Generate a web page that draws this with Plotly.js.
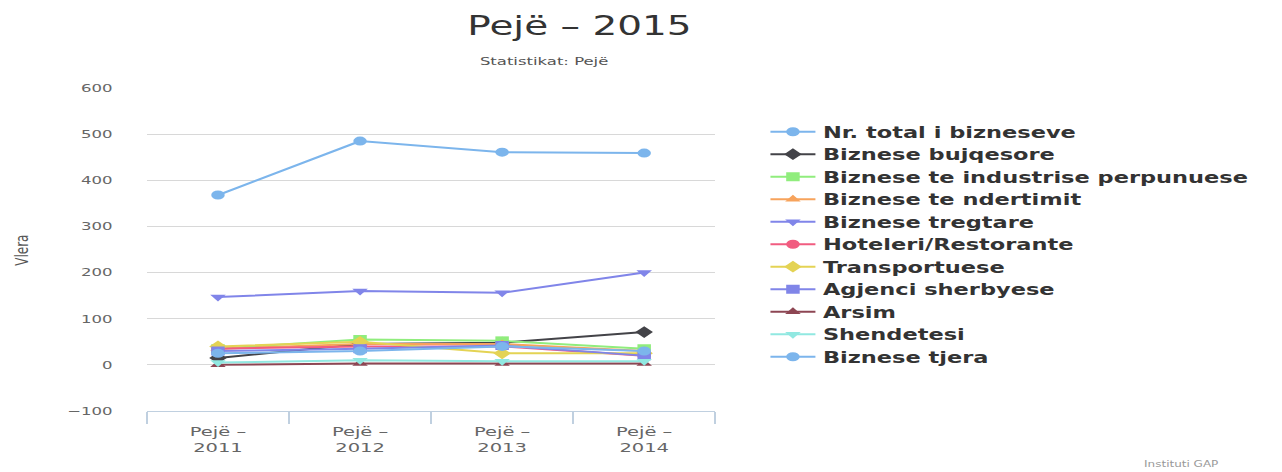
<!DOCTYPE html>
<html>
<head>
<meta charset="utf-8">
<script src="https://cdn.plot.ly/plotly-3.0.1.min.js"></script>
<style>
  html, body { margin: 0; padding: 0; background: #ffffff; overflow: hidden; }
  #chart { width: 855px; height: 472px; transform: scaleX(1.4994); transform-origin: 0 0; }
</style>
</head>
<body>
<div id="chart"></div>
<script>
// ---- data ----
const categories = ["Pejë –<br>2011", "Pejë –<br>2012", "Pejë –<br>2013", "Pejë –<br>2014"];
const seriesNames = [
  "Nr. total i bizneseve",
  "Biznese bujqesore",
  "Biznese te industrise perpunuese",
  "Biznese te ndertimit",
  "Biznese tregtare",
  "Hoteleri/Restorante",
  "Transportuese",
  "Agjenci sherbyese",
  "Arsim",
  "Shendetesi",
  "Biznese tjera"
];
const totalBiznese   = [368, 485, 461, 459];
const bujqesore      = [15, 45, 48, 71];
const industrise     = [35, 55, 52, 35];
const ndertimit      = [35, 45, 45, 30];
const tregtare       = [147, 160, 156, 200];
const hoteleri       = [35, 40, 40, 20];
const transportuese  = [40, 50, 25, 25];
const agjenci        = [30, 35, 42, 20];
const arsim          = [0, 3, 3, 3];
const shendetesi     = [5, 10, 8, 8];
const tjera          = [25, 30, 40, 30];
const yTickVals = [-100, 0, 100, 200, 300, 400, 500, 600];

const seriesValues = [totalBiznese, bujqesore, industrise, ndertimit, tregtare,
  hoteleri, transportuese, agjenci, arsim, shendetesi, tjera];
const colors = ["#7cb5ec", "#434348", "#90ed7d", "#f7a35c", "#8085e9", "#f15c80",
  "#e4d354", "#8085e8", "#8d4653", "#91e8e1", "#7cb5ec"];
const symbols = ["circle", "diamond", "square", "triangle-up", "triangle-down", "circle",
  "diamond", "square", "triangle-up", "triangle-down", "circle"];

const FONT = "DejaVu Sans, Verdana, sans-serif";

const traces = seriesNames.map((name, i) => ({
  type: "scatter",
  mode: "lines+markers",
  name: name,
  x: categories,
  y: seriesValues[i],
  line: { color: colors[i], width: 2 },
  marker: { color: colors[i], symbol: symbols[i], size: 9 }
}));

const layout = {
  width: 855,
  height: 472,
  margin: { l: 98, r: 378, t: 88, b: 61 },
  paper_bgcolor: "#ffffff",
  plot_bgcolor: "#ffffff",
  font: { family: FONT, color: "#333333" },
  title: {
    text: "Pejë – 2015",
    font: { family: FONT, size: 26, color: "#333333" },
    x: 0.452, xref: "container", xanchor: "center",
    y: 0.945, yref: "container", yanchor: "middle"
  },
  xaxis: {
    type: "category",
    range: [-0.5, 3.5],
    tickson: "boundaries",
    ticks: "outside",
    ticklen: 12,
    tickcolor: "#C0D0E0",
    showline: true,
    linecolor: "#C0D0E0",
    linewidth: 1,
    showgrid: false,
    ticklabelstandoff: 8,
    tickfont: { family: FONT, size: 13, color: "#666666" },
    fixedrange: true
  },
  yaxis: {
    range: [-100, 600],
    tickvals: yTickVals,
    showgrid: true,
    gridcolor: "#D8D8D8",
    gridwidth: 1,
    zeroline: false,
    showline: false,
    ticks: "",
    ticklabelstandoff: 22,
    tickfont: { family: FONT, size: 11, color: "#666666" },
    fixedrange: true
  },
  showlegend: true,
  legend: {
    x: 1.084, xref: "paper", xanchor: "left",
    y: 0.915, yref: "paper", yanchor: "top",
    font: { family: FONT, size: 15, color: "#333333", weight: "bold" },
    bgcolor: "rgba(0,0,0,0)",
    itemwidth: 30,
    tracegroupgap: 0
  },
  annotations: [
    {
      text: "Statistikat: Pejë",
      xref: "paper", yref: "paper",
      x: 0.70, y: 1.0805, xanchor: "center", yanchor: "middle",
      showarrow: false,
      font: { family: FONT, size: 11, color: "#555555" }
    },
    {
      text: "Vlera",
      xref: "paper", yref: "paper",
      x: -0.22, y: 0.498, xanchor: "center", yanchor: "middle",
      textangle: -90,
      showarrow: false,
      font: { family: FONT, size: 12, color: "#555555" }
    },
    {
      text: "Instituti GAP",
      xref: "paper", yref: "paper",
      x: 1.82, y: -0.167, xanchor: "center", yanchor: "middle",
      showarrow: false,
      font: { family: FONT, size: 8, color: "#999999" }
    }
  ]
};

Plotly.newPlot("chart", traces, layout, { displayModeBar: false, staticPlot: true });
</script>
</body>
</html>
